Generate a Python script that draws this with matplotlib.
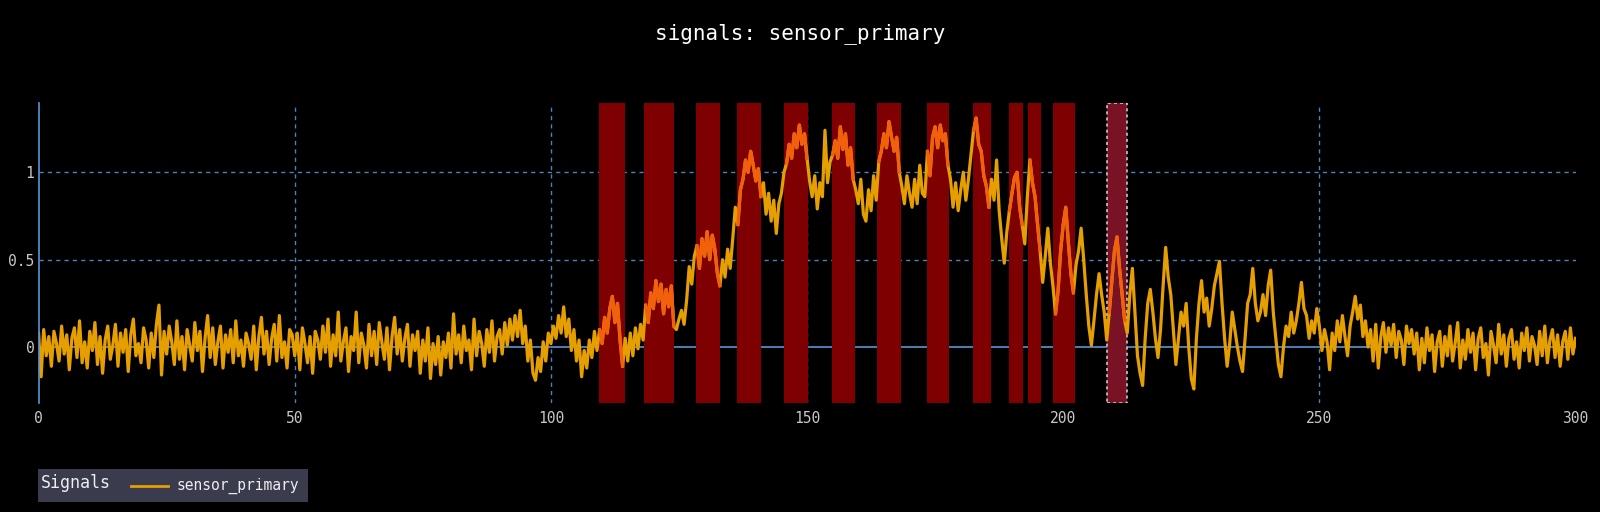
import numpy as np
import matplotlib.pyplot as plt
from matplotlib.patches import Rectangle
from matplotlib.lines import Line2D

# Signal, sampled every 0.5 time units from 0 to 300
series_name = "sensor_primary"
t = np.arange(0, 300.5, 0.5)
signal = [
    0.08, -0.17, 0.10, -0.05, 0.06, -0.11, 0.09, 0.02, -0.08, 0.12, -0.04, 0.07, -0.13, 0.05, 0.11, -0.06, 0.15, -0.09, 0.03, -0.12,
    0.09, -0.02, 0.14, -0.10, 0.06, -0.15, 0.04, 0.12, -0.07, 0.01, 0.13, -0.11, 0.08, -0.03, 0.10, -0.14, 0.07, 0.16, -0.05, 0.02,
    -0.09, 0.11, 0.04, -0.12, 0.08, -0.06, 0.13, 0.24, -0.16, 0.09, -0.04, 0.12, 0.03, -0.10, 0.15, -0.07, 0.06, -0.13, 0.10, 0.01,
    -0.08, 0.14, -0.02, 0.09, -0.14, 0.05, 0.18, -0.06, 0.11, -0.10, 0.03, 0.12, -0.12, 0.07, -0.03, 0.10, -0.09, 0.15, -0.05, 0.04,
    -0.11, 0.08, 0.02, -0.07, 0.12, -0.13, 0.06, 0.17, -0.04, 0.09, -0.10, 0.05, 0.13, -0.08, 0.18, -0.06, 0.03, -0.12, 0.10, 0.07,
    -0.05, 0.08, -0.13, 0.11, 0.02, -0.09, 0.06, -0.15, 0.09, 0.04, -0.07, 0.12, -0.03, 0.16, -0.11, 0.07, -0.05, 0.20, -0.08, 0.03,
    0.11, -0.14, 0.06, -0.02, 0.20, -0.09, 0.08, 0.01, -0.12, 0.13, -0.05, 0.09, -0.10, 0.14, 0.03, -0.07, 0.11, -0.13, 0.06, 0.17,
    -0.04, 0.10, -0.08, 0.05, 0.13, -0.11, 0.07, -0.02, 0.09, -0.15, 0.04, -0.08, 0.11, -0.18, 0.02, -0.10, 0.06, -0.16, 0.03, -0.06,
    0.08, -0.12, 0.19, -0.04, 0.07, -0.09, 0.12, -0.02, 0.04, -0.13, 0.16, -0.05, 0.09, 0.02, -0.11, 0.10, -0.03, 0.15, -0.08, 0.06,
    0.10, -0.04, 0.14, 0.01, 0.16, 0.04, 0.18, 0.06, 0.21, 0.02, 0.12, -0.08, 0.04, -0.15, -0.19, -0.06, -0.14, 0.03, -0.08, 0.08,
    0.02, 0.12, 0.05, 0.18, 0.08, 0.23, 0.06, 0.16, -0.02, 0.10, -0.08, 0.04, -0.17, -0.02, -0.12, 0.04, -0.06, 0.09, -0.02, 0.10,
    0.02, 0.17, 0.08, 0.22, 0.29, 0.14, 0.25, 0.04, -0.11, 0.05, -0.08, 0.08, -0.05, 0.11, -0.01, 0.13, 0.04, 0.24, 0.14, 0.31,
    0.22, 0.38, 0.26, 0.36, 0.19, 0.33, 0.23, 0.35, 0.12, 0.10, 0.16, 0.21, 0.13, 0.27, 0.46, 0.36, 0.52, 0.58, 0.45, 0.62,
    0.52, 0.66, 0.50, 0.64, 0.56, 0.42, 0.35, 0.50, 0.40, 0.56, 0.45, 0.62, 0.80, 0.70, 0.90, 0.96, 1.07, 1.00, 1.12, 1.04,
    0.95, 1.02, 0.86, 0.94, 0.76, 0.88, 0.72, 0.84, 0.65, 0.82, 0.88, 1.00, 1.05, 1.16, 1.08, 1.22, 1.14, 1.27, 1.16, 1.22,
    1.08, 0.95, 0.86, 0.98, 0.79, 0.94, 0.86, 1.24, 0.94, 1.06, 1.10, 1.18, 1.08, 1.26, 1.13, 1.22, 1.04, 1.14, 0.96, 0.90,
    0.82, 0.96, 0.76, 0.72, 0.90, 0.78, 0.98, 0.84, 1.06, 1.12, 1.22, 1.14, 1.29, 1.20, 1.12, 1.20, 1.00, 0.92, 0.82, 0.98,
    0.88, 0.80, 0.96, 0.82, 1.04, 0.88, 0.86, 1.12, 0.98, 1.20, 1.26, 1.14, 1.27, 1.18, 1.22, 1.04, 0.96, 0.80, 0.94, 0.78,
    0.90, 1.00, 0.84, 0.96, 1.10, 1.24, 1.31, 1.16, 1.12, 0.98, 0.92, 0.80, 0.96, 0.84, 1.07, 0.78, 0.62, 0.48, 0.66, 0.78,
    0.88, 0.97, 1.00, 0.80, 0.70, 0.59, 0.86, 1.07, 0.94, 0.86, 0.70, 0.55, 0.37, 0.52, 0.68, 0.48, 0.35, 0.19, 0.32, 0.55,
    0.70, 0.80, 0.60, 0.42, 0.31, 0.47, 0.55, 0.68, 0.50, 0.30, 0.12, 0.01, 0.15, 0.30, 0.42, 0.30, 0.20, 0.04, 0.20, 0.38,
    0.55, 0.63, 0.45, 0.30, 0.15, 0.08, 0.30, 0.45, 0.20, -0.05, -0.15, -0.22, 0.05, 0.25, 0.33, 0.20, 0.05, -0.06, 0.10, 0.35,
    0.57, 0.40, 0.30, 0.10, -0.10, 0.05, 0.20, 0.12, 0.25, 0.00, -0.18, -0.24, 0.05, 0.25, 0.38, 0.20, 0.28, 0.12, 0.22, 0.35,
    0.42, 0.49, 0.25, 0.05, -0.11, 0.02, 0.20, 0.10, 0.00, -0.08, -0.14, 0.05, 0.25, 0.30, 0.45, 0.25, 0.15, 0.20, 0.30, 0.18,
    0.35, 0.44, 0.20, 0.05, -0.10, -0.17, 0.00, 0.12, 0.06, 0.20, 0.08, 0.15, 0.25, 0.37, 0.22, 0.18, 0.05, 0.15, 0.08, 0.22,
    0.12, -0.02, 0.10, 0.03, -0.13, 0.08, -0.02, 0.15, 0.03, 0.18, 0.06, -0.05, 0.12, 0.20, 0.29, 0.16, 0.24, 0.06, 0.15, 0.00,
    0.10, -0.08, 0.13, -0.12, 0.06, 0.14, -0.03, 0.11, 0.01, 0.13, -0.06, 0.09, 0.04, -0.10, 0.12, 0.02, 0.10, -0.04, 0.08, -0.13,
    0.05, -0.09, 0.11, -0.02, 0.07, -0.14, 0.03, 0.09, -0.11, 0.06, -0.05, 0.12, -0.08, 0.02, 0.14, -0.12, 0.04, -0.07, 0.10, -0.03,
    0.08, -0.13, 0.05, 0.11, -0.06, 0.02, -0.16, 0.09, 0.01, -0.09, 0.13, -0.04, 0.07, -0.11, 0.05, 0.10, -0.07, 0.03, -0.12, 0.08,
    -0.02, 0.11, -0.08, 0.06, 0.01, -0.10, 0.09, -0.05, 0.12, -0.09, 0.04, 0.10, -0.06, 0.07, -0.11, 0.03, 0.09, -0.07, 0.11, -0.04,
    0.05,
]
signal = np.array(signal)

# Highlighted event windows (last one is the selected window)
event_start = [109.4, 118.1, 128.4, 136.4, 145.6, 154.9, 163.6, 173.4, 182.3, 189.5, 193.2, 198.1, 208.6]
event_end = [114.4, 124.1, 133.1, 141.1, 150.1, 159.4, 168.3, 177.8, 185.9, 192.1, 195.6, 202.4, 212.4]
selected = 12

x_ticks = [0, 50, 100, 150, 200, 250, 300]
y_ticks = [0, 0.5, 1]
y_labels = ["0", "0.5", "1"]

mono = "DejaVu Sans Mono"
line_col = "#e69f00"
hi_col = "#f2600c"
grid_col = "#4f80b8"
axis_col = "#5b95d4"

fig = plt.figure(figsize=(16, 5.12), dpi=100, facecolor="black")
ax = fig.add_axes([0.0241, 0.2129, 0.9606, 0.5859])
ax.set_facecolor("black")
ax.set_xlim(0, 300)
ax.set_ylim(-0.32, 1.396)

# grid
for xv in x_ticks[1:-1]:
    ax.axvline(xv, color=grid_col, lw=1, dashes=(3, 3), zorder=0)
for yv in y_ticks[1:]:
    ax.axhline(yv, color=grid_col, lw=1, dashes=(3, 3), zorder=0)
ax.axhline(0, color=axis_col, lw=1.2, zorder=0.5)

# event windows
for i, (s, e) in enumerate(zip(event_start, event_end)):
    if i == selected:
        ax.axvspan(s, e, facecolor="#7a1226", edgecolor="#d8d8d8", lw=1.1,
                   linestyle=(0, (2, 2)), zorder=1)
    else:
        ax.axvspan(s, e, facecolor="#7f0000", edgecolor="none", zorder=1)

ax.plot(t, signal, color=line_col, lw=2.3, zorder=2)
for s, e in zip(event_start, event_end):
    m = (t >= s) & (t <= e)
    ax.plot(t[m], signal[m], color=hi_col, lw=2.3, zorder=3)

for sp in ["top", "right", "bottom"]:
    ax.spines[sp].set_visible(False)
ax.spines["left"].set_color(axis_col)
ax.spines["left"].set_linewidth(1.2)

ax.set_xticks(x_ticks)
ax.set_xticklabels([str(v) for v in x_ticks])
ax.set_yticks(y_ticks)
ax.set_yticklabels(y_labels)
ax.tick_params(length=0, colors="#c8c8c8", labelsize=10.5)
ax.tick_params(axis="x", pad=6)
ax.tick_params(axis="y", pad=3)
for lab in ax.get_xticklabels() + ax.get_yticklabels():
    lab.set_family(mono)

fig.text(0.5, 0.934, "signals: " + series_name, color="white", fontsize=15,
         family=mono, ha="center", va="center")

# legend box (horizontal, title on the left)
W, H = 1600, 512
fig.patches.append(Rectangle((38 / W, 10 / H), 270 / W, 33 / H, transform=fig.transFigure,
                             facecolor="#3a3c4e", edgecolor="none"))
fig.text(41 / W, 29 / H, "Signals", color="#eeeeee", fontsize=12, family=mono, va="center")
fig.lines.append(Line2D([131 / W, 168 / W], [26 / H, 26 / H], transform=fig.transFigure,
                        color=line_col, lw=2))
fig.text(176 / W, 26 / H, series_name, color="#eeeeee", fontsize=10.5, family=mono, va="center")

fig.savefig("out.png", dpi=100, facecolor="black")
